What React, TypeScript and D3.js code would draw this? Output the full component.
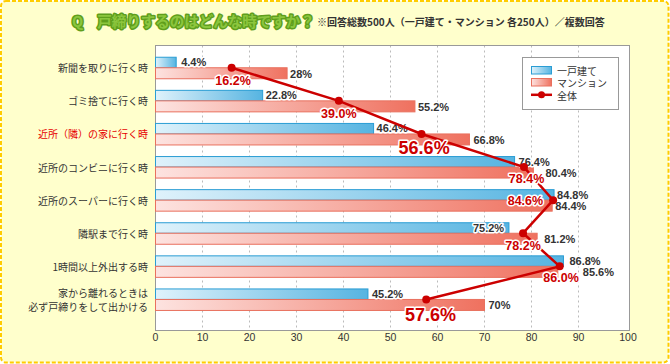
import React from "react";
import * as d3 from "d3";

const categories = [
  ["新聞を取りに行く時"],
  ["ゴミ捨てに行く時"],
  ["近所（隣）の家に行く時"],
  ["近所のコンビニに行く時"],
  ["近所のスーパーに行く時"],
  ["隣駅まで行く時"],
  ["1時間以上外出する時"],
  ["家から離れるときは", "必ず戸締りをして出かける"],
];
const highlighted = [false, false, true, false, false, false, false, false];
const detached = [4.4, 22.8, 46.4, 76.4, 84.8, 75.2, 86.8, 45.2];
const mansion = [28, 55.2, 66.8, 80.4, 84.4, 81.2, 85.6, 70];
const overall = [16.2, 39.0, 56.6, 78.4, 84.6, 78.2, 86.0, 57.6];
const bigOverall = [false, false, true, false, false, false, false, true];
const detachedLabels = ["4.4%", "22.8%", "46.4%", "76.4%", "84.8%", "75.2%", "86.8%", "45.2%"];
const mansionLabels = ["28%", "55.2%", "66.8%", "80.4%", "84.4%", "81.2%", "85.6%", "70%"];
const overallLabels = ["16.2%", "39.0%", "56.6%", "78.4%", "84.6%", "78.2%", "86.0%", "57.6%"];
const xTicks = [0, 10, 20, 30, 40, 50, 60, 70, 80, 90, 100];
const legendNames = ["一戸建て", "マンション", "全体"];

// layout nudges for labels (pixels)
const detachedDx = [5, 3, 3, 4, 3, -36, 6, 4];
const mansionDx = [3, 3, 4, 12, 3, 7, 25, 4];
const overallOff: [number, number][] = [
  [1.4, 13.4], [0, 13.3], [2.6, 14], [2.6, 12.3], [-27.7, 0.7], [0, 12.7], [1.4, 11.3], [4.3, 15.7],
];

const W = 670, H = 364;
const plot = { left: 155.5, top: 45.5, right: 629.5, bottom: 330.5 };

const JP = "'Noto Sans CJK JP', 'Noto Sans', sans-serif";
const NUM = "'Liberation Sans', Arial, sans-serif";

export default function App() {
  const x = d3.scaleLinear().domain([0, 100]).range([155.5, 625.5]);
  const idx = categories.map((_, i) => String(i));
  const y = d3.scaleBand().domain(idx).range([51.2, 316]).paddingInner(0.335).paddingOuter(0.1675);
  const bw = y.bandwidth();
  const half = bw / 2;
  const mid = (i: number) => (y(String(i)) as number) + half;

  const line = d3.line<number>().x((d) => x(d)).y((_, i) => mid(i));

  const halo = { paintOrder: "stroke" as const, stroke: "#fff", strokeWidth: 3, strokeLinejoin: "round" as const };

  return (
    <svg width={W} height={H} style={{ position: "absolute", left: 0, top: 0, display: "block" }}>
      <defs>
        <linearGradient id="gBlue" x1="0" x2="1" y1="0" y2="0">
          <stop offset="0" stopColor="#dff2fb" />
          <stop offset="1" stopColor="#56b4e1" />
        </linearGradient>
        <linearGradient id="gRed" x1="0" x2="1" y1="0" y2="0">
          <stop offset="0" stopColor="#fde3e0" />
          <stop offset="1" stopColor="#ef715f" />
        </linearGradient>
      </defs>
      <rect x={1} y={1} width={W - 2.5} height={H - 2.5} rx={5} fill="#ffffcc" stroke="#ffcc00" strokeWidth={2} strokeDasharray="4 2" />

      {/* title */}
      <text x={72} y={27} fontFamily={JP} fontWeight={700} fontSize={14.5} fill="#8cc63e" stroke="#5f9e1c" strokeWidth={3} style={{ paintOrder: "stroke" }} strokeLinejoin="round">
        Q<tspan dx={14}>戸締りするのはどんな時ですか？</tspan>
      </text>
      <text x={317} y={26} fontFamily={JP} fontWeight={700} fontSize={10} fill="#333">
        ※回答総数500人（一戸建て・マンション 各250人）／複数回答
      </text>

      {/* plot area */}
      <rect x={plot.left} y={plot.top} width={plot.right - plot.left} height={plot.bottom - plot.top} fill="#fff" />
      {xTicks.filter((t) => t > 0 && t < 100).map((t) => (
        <line key={t} x1={x(t)} x2={x(t)} y1={plot.top} y2={plot.bottom} stroke="#bbb" strokeDasharray="2 3" />
      ))}
      <rect x={plot.left} y={plot.top} width={plot.right - plot.left} height={plot.bottom - plot.top} fill="none" stroke="#999" strokeWidth={1} />

      {/* bars */}
      {detached.map((v, i) => (
        <rect key={"b" + i} x={x(0)} y={(y(String(i)) as number) + 0.5} width={x(v) - x(0)} height={half - 0.5} fill="url(#gBlue)" stroke="#2a9dd4" strokeWidth={1} />
      ))}
      {mansion.map((v, i) => (
        <rect key={"r" + i} x={x(0)} y={mid(i)} width={x(v) - x(0)} height={half} fill="url(#gRed)" stroke="#e9705e" strokeWidth={1} />
      ))}

      {/* value labels */}
      {detached.map((v, i) => (
        <text key={"bl" + i} x={x(v) + detachedDx[i]} y={mid(i) - half / 2} dominantBaseline="central" fontFamily={NUM} fontWeight={700} fontSize={11} fill="#333" style={halo} stroke="#fff" strokeWidth={2}>
          {detachedLabels[i]}
        </text>
      ))}
      {mansion.map((v, i) => (
        <text key={"rl" + i} x={x(v) + mansionDx[i]} y={mid(i) + half / 2 + 0.5} dominantBaseline="central" fontFamily={NUM} fontWeight={700} fontSize={11} fill="#333" style={halo} stroke="#fff" strokeWidth={2}>
          {mansionLabels[i]}
        </text>
      ))}

      {/* overall line */}
      <path d={line(overall) || ""} fill="none" stroke="#cc0000" strokeWidth={2.5} />
      {overall.map((v, i) => (
        <circle key={"p" + i} cx={x(v)} cy={mid(i)} r={4} fill="#cc0000" />
      ))}
      {overall.map((v, i) => (
        <text key={"pl" + i} x={x(v) + overallOff[i][0]} y={mid(i) + overallOff[i][1]} textAnchor="middle" dominantBaseline="central" fontFamily={NUM} fontWeight={700} fontSize={bigOverall[i] ? 18 : 12.5} fill="#cc0000" style={halo}>
          {overallLabels[i]}
        </text>
      ))}

      {/* category labels */}
      {categories.map((lines, i) => (
        <text key={"c" + i} x={148} y={mid(i)} textAnchor="end" fontFamily={JP} fontSize={10} fill={highlighted[i] ? "#e60000" : "#333"}>
          {lines.map((l, k) => (
            <tspan key={k} x={148} y={mid(i) + (k - (lines.length - 1) / 2) * 13.4} dominantBaseline="central">{l}</tspan>
          ))}
        </text>
      ))}

      {/* x axis ticks */}
      {xTicks.map((t) => (
        <text key={"t" + t} x={x(t) + (t === 100 ? 2.5 : 0)} y={337} textAnchor="middle" dominantBaseline="central" fontFamily={NUM} fontSize={10.5} fill="#333">
          {t}
        </text>
      ))}

      {/* legend */}
      <rect x={522.5} y={57.5} width={96} height={52} fill="#fff" stroke="#999" />
      <rect x={531.5} y={66.5} width={20} height={7.5} fill="url(#gBlue)" stroke="#2a9dd4" />
      <rect x={531.5} y={78.5} width={20} height={7.5} fill="url(#gRed)" stroke="#e9705e" />
      <line x1={531} x2={552} y1={94.8} y2={94.8} stroke="#cc0000" strokeWidth={2.5} />
      <circle cx={541.5} cy={94.8} r={3.5} fill="#cc0000" />
      {legendNames.map((n, k) => (
        <text key={n} x={557} y={70.2 + k * 12.4} dominantBaseline="central" fontFamily={JP} fontSize={10} fill="#333">{n}</text>
      ))}
    </svg>
  );
}
